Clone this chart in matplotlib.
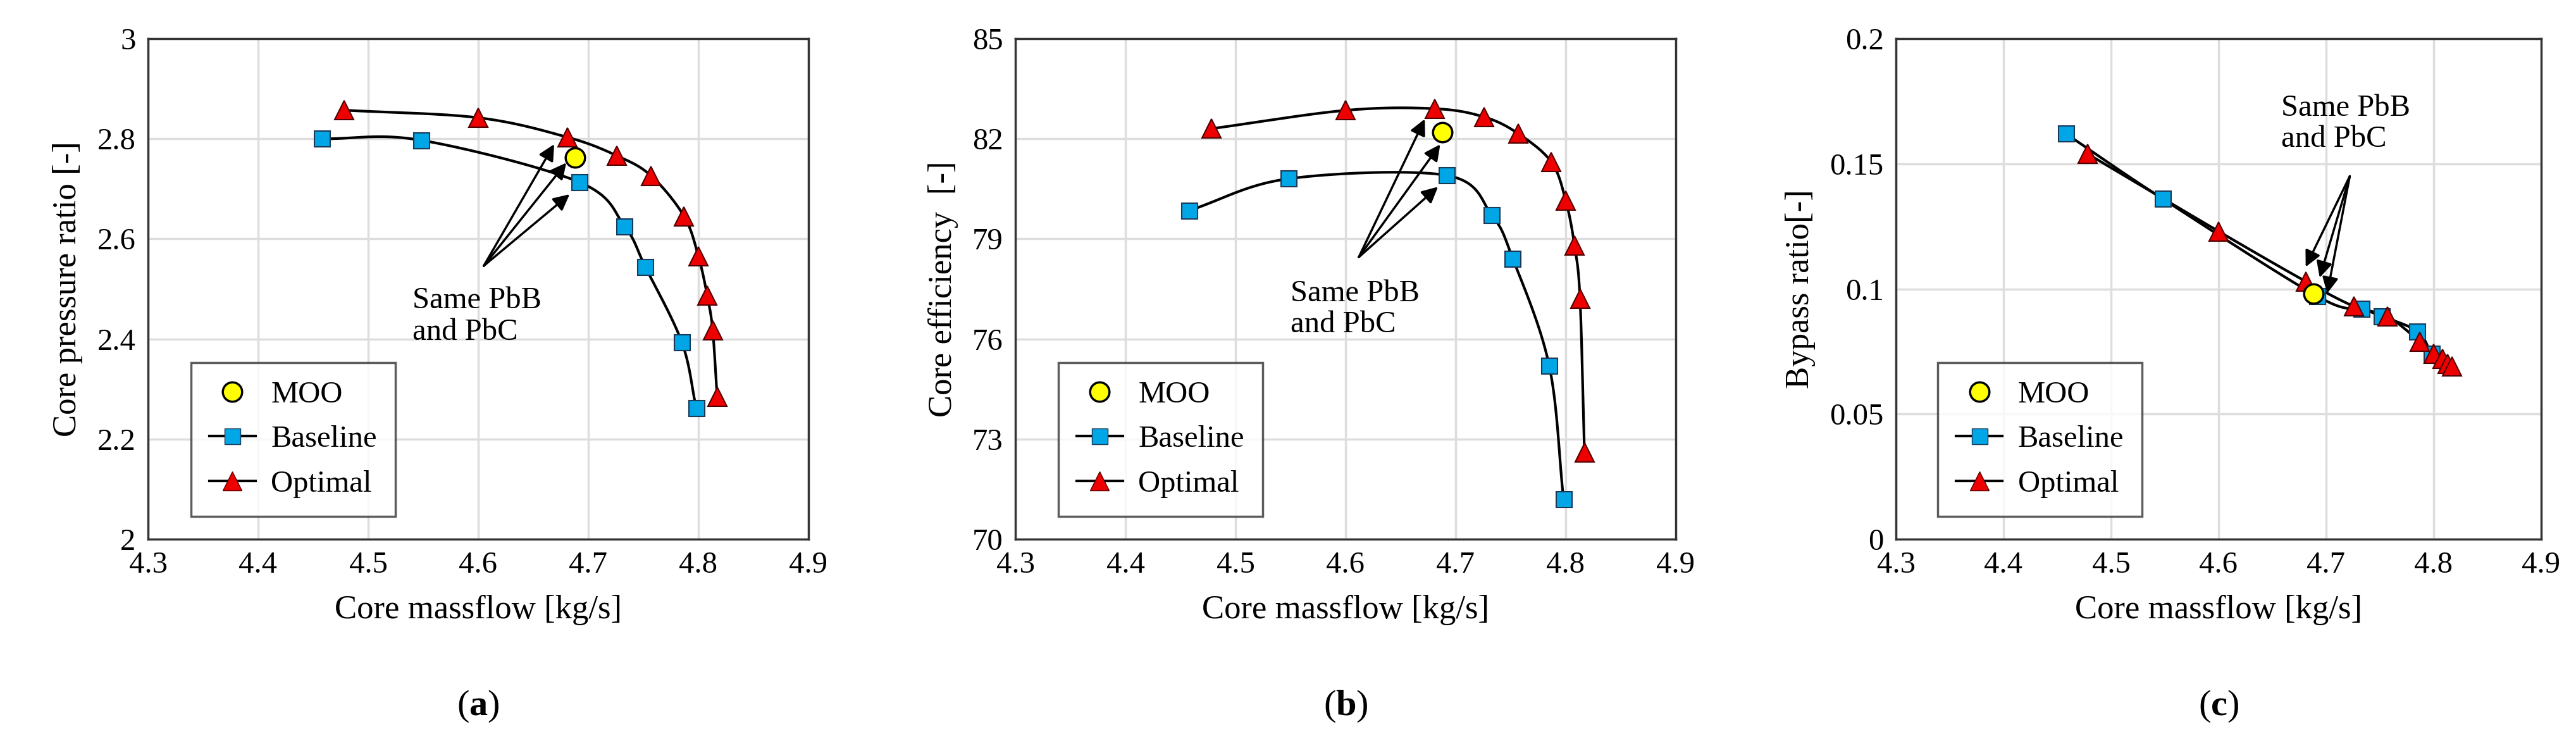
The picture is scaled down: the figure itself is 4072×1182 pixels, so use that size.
import numpy as np
import matplotlib.pyplot as plt

plt.rcParams['font.family'] = ['Liberation Serif', 'DejaVu Serif']
plt.rcParams['mathtext.fontset'] = 'custom'
plt.rcParams['mathtext.bf'] = 'Liberation Serif:bold'
plt.rcParams['mathtext.rm'] = 'Liberation Serif'

# Baseline / Optimal data (core massflow on x)
base_x = [4.458, 4.548, 4.692, 4.733, 4.752, 4.785, 4.798]
opt_x = [4.478, 4.60, 4.681, 4.726, 4.757, 4.787, 4.800, 4.808, 4.813, 4.817]
moo_x = 4.688

base_pr = [2.800, 2.797, 2.713, 2.625, 2.543, 2.393, 2.262]
opt_pr = [2.857, 2.842, 2.803, 2.766, 2.726, 2.645, 2.565, 2.487, 2.417, 2.285]
moo_pr = 2.762

base_eff = [79.85, 80.8, 80.9, 79.7, 78.4, 75.2, 71.2]
opt_eff = [82.3, 82.85, 82.9, 82.65, 82.15, 81.3, 80.15, 78.8, 77.2, 72.6]
moo_eff = 82.2

base_bpr = [0.162, 0.136, 0.097, 0.092, 0.089, 0.083, 0.074]
opt_bpr = [0.154, 0.123, 0.103, 0.093, 0.089, 0.079, 0.074, 0.072, 0.070, 0.069]
moo_bpr = 0.098

ylabels = ['Core pressure ratio [-]', 'Core efficiency  [-]', 'Bypass ratio[-]']
ylims = [(2, 3), (70, 85), (0, 0.2)]
yticks = [np.arange(2, 3.01, 0.2), np.arange(70, 85.1, 3), np.arange(0, 0.201, 0.05)]
ytick_labels = [['2', '2.2', '2.4', '2.6', '2.8', '3'],
                ['70', '73', '76', '79', '82', '85'],
                ['0', '0.05', '0.1', '0.15', '0.2']]
panel_tags = ['a', 'b', 'c']

# annotation: text pos (left, centre), arrow origin, arrow targets
notes = [
    ((4.54, 2.445), (4.605, 2.546), [(4.669, 2.789), (4.680, 2.752), (4.683, 2.689)]),
    ((4.55, 76.9), (4.612, 78.45), [(4.672, 82.59), (4.686, 81.83), (4.684, 80.56)]),
    ((4.658, 0.166), (4.722, 0.145), [(4.681, 0.1088), (4.694, 0.1045), (4.701, 0.0982)]),
]


def smooth(x, y, n=20):
    # Catmull-Rom curve through the points, like a spreadsheet "smoothed line"
    p = np.column_stack([x, y]).astype(float)
    p = np.vstack([2 * p[0] - p[1], p, 2 * p[-1] - p[-2]])
    out = []
    t = np.linspace(0, 1, n, endpoint=False)[:, None]
    for i in range(1, len(p) - 2):
        p0, p1, p2, p3 = p[i - 1], p[i], p[i + 1], p[i + 2]
        seg = 0.5 * ((2 * p1) + (-p0 + p2) * t + (2 * p0 - 5 * p1 + 4 * p2 - p3) * t ** 2
                     + (-p0 + 3 * p1 - 3 * p2 + p3) * t ** 3)
        out.append(seg)
    out.append(p[-2][None, :])
    out = np.vstack(out)
    return out[:, 0], out[:, 1]


W, H = 4073, 1182
fig = plt.figure(figsize=(W / 100, H / 100), dpi=100)
boxes = [(234, 1044), (1605, 1044), (2997, 1020)]
top, bottom = 61, 852
series = [(base_pr, opt_pr, moo_pr), (base_eff, opt_eff, moo_eff), (base_bpr, opt_bpr, moo_bpr)]

for i in range(3):
    left, w = boxes[i]
    ax = fig.add_axes([left / W, 1 - bottom / H, w / W, (bottom - top) / H])
    b, o, m = series[i]
    sx, sy = smooth(base_x, b)
    ax.plot(sx, sy, color='black', lw=3, zorder=2)
    sx, sy = smooth(opt_x, o)
    ax.plot(sx, sy, color='black', lw=3, zorder=2)
    hb, = ax.plot(base_x, b, 's', color='black', lw=3, markersize=18, markerfacecolor='#00a6e6',
                  markeredgecolor='#1a3a5a', markeredgewidth=1.5, zorder=3)
    ho, = ax.plot(opt_x, o, '^', color='black', lw=3, markersize=22, markerfacecolor='#ee0000',
                  markeredgecolor='#500000', markeredgewidth=1.5, zorder=3)
    hm, = ax.plot([moo_x], [m], 'o', markersize=22, markerfacecolor='#ffff00',
                  markeredgecolor='black', markeredgewidth=2.5, zorder=4)
    ax.set_xlim(4.3, 4.9)
    ax.set_xticks(np.arange(4.3, 4.91, 0.1))
    ax.set_xticklabels(['4.3', '4.4', '4.5', '4.6', '4.7', '4.8', '4.9'])
    ax.set_ylim(*ylims[i])
    ax.set_yticks(yticks[i])
    ax.set_yticklabels(ytick_labels[i])
    ax.grid(True, color='#dddddd', lw=2.5)
    ax.set_axisbelow(True)
    ax.tick_params(labelsize=35, length=0, pad=14)
    for s in ax.spines.values():
        s.set_linewidth(2.5)
        s.set_color('#333333')
    ax.set_xlabel('Core massflow [kg/s]', fontsize=38, labelpad=18)
    ax.set_ylabel(ylabels[i], fontsize=38, labelpad=16)

    tpos, origin, targets = notes[i]
    ax.text(tpos[0], tpos[1], 'Same PbB\nand PbC', fontsize=35, ha='left', va='center',
            linespacing=1.15)
    for t in targets:
        ax.annotate('', xy=t, xytext=origin,
                    arrowprops=dict(arrowstyle='-|>', color='black', lw=2.5, mutation_scale=38,
                                    shrinkA=0, shrinkB=0))

    lb = plt.Line2D([], [], color='black', lw=3, marker='s', markersize=18,
                    markerfacecolor='#00a6e6', markeredgecolor='#1a3a5a')
    lo = plt.Line2D([], [], color='black', lw=3, marker='^', markersize=22,
                    markerfacecolor='#ee0000', markeredgecolor='#500000')
    leg = ax.legend([hm, lb, lo], ['MOO', 'Baseline', 'Optimal'], loc='lower left',
                    bbox_to_anchor=(0.065, 0.045), fontsize=35, frameon=True, fancybox=False,
                    edgecolor='#333333', borderpad=0.6, labelspacing=0.55, handlelength=1.5,
                    handletextpad=0.5, borderaxespad=0)
    leg.get_frame().set_linewidth(2.5)

    fig.text((left + w / 2) / W, 1 - 1116 / H, r'$\mathrm{(}\mathbf{' + panel_tags[i] + r'}\mathrm{)}$',
             fontsize=42, ha='center', va='center')

fig.savefig('out.png', dpi=100)
